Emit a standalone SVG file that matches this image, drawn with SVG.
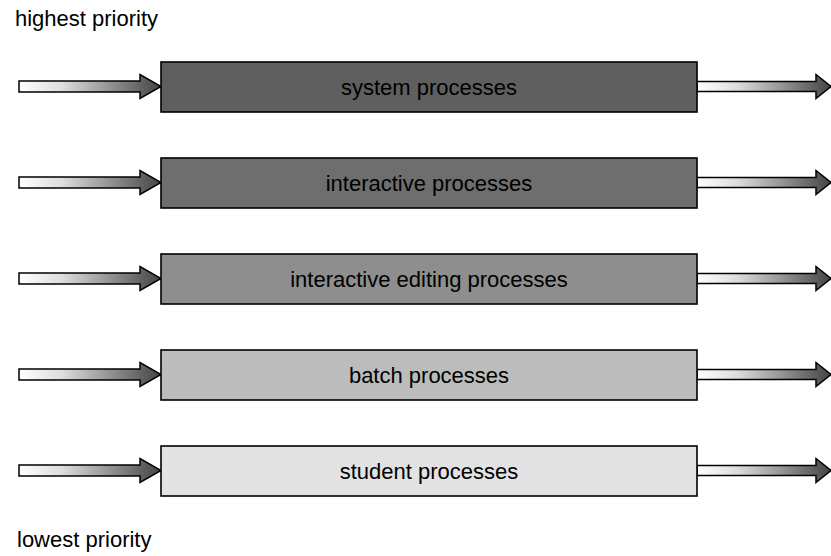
<svg xmlns="http://www.w3.org/2000/svg" width="831" height="556" viewBox="0 0 831 556">
<defs>
<linearGradient id="ag" x1="0" y1="0" x2="1" y2="0">
<stop offset="0" stop-color="#ffffff"/>
<stop offset="0.3" stop-color="#dddddd"/>
<stop offset="1" stop-color="#444444"/>
</linearGradient>
<path id="inA" d="M19,-5.5 H140 V-12 L161,0 L140,12 V5.5 H19 Z"/>
<path id="outA" d="M697,-5 H816 V-12 L831,0 L816,12 V5 H697 Z"/>
</defs>
<style>
.box{stroke:#000;stroke-width:1.6}
.arr{fill:url(#ag);stroke:#000;stroke-width:1.5;stroke-linejoin:miter}
.lbl{font-family:"Liberation Sans",Arial,sans-serif;font-size:22px;fill:#000;text-anchor:middle}
.pri{font-family:"Liberation Sans",Arial,sans-serif;font-size:22px;fill:#000}
</style>
<rect width="831" height="556" fill="#fff"/>
<text class="pri" x="15" y="26">highest priority</text>
<text class="pri" x="17" y="547">lowest priority</text>
<g id="connectors">
<use href="#inA" class="arr" transform="translate(0,86.5)"/>
<use href="#outA" class="arr" transform="translate(0,86.5)"/>
<use href="#inA" class="arr" transform="translate(0,182.5)"/>
<use href="#outA" class="arr" transform="translate(0,182.5)"/>
<use href="#inA" class="arr" transform="translate(0,278.5)"/>
<use href="#outA" class="arr" transform="translate(0,278.5)"/>
<use href="#inA" class="arr" transform="translate(0,374.5)"/>
<use href="#outA" class="arr" transform="translate(0,374.5)"/>
<use href="#inA" class="arr" transform="translate(0,470.5)"/>
<use href="#outA" class="arr" transform="translate(0,470.5)"/>
</g>
<g id="system">
<rect class="box" x="161" y="62" width="536" height="50" fill="#5f5f5f"/>
<text class="lbl" x="429" y="95">system processes</text>
</g>
<g id="interactive">
<rect class="box" x="161" y="158" width="536" height="50" fill="#6e6e6e"/>
<text class="lbl" x="429" y="191">interactive processes</text>
</g>
<g id="editing">
<rect class="box" x="161" y="254" width="536" height="50" fill="#8e8e8e"/>
<text class="lbl" x="429" y="287">interactive editing processes</text>
</g>
<g id="batch">
<rect class="box" x="161" y="350" width="536" height="50" fill="#bcbcbc"/>
<text class="lbl" x="429" y="383">batch processes</text>
</g>
<g id="student">
<rect class="box" x="161" y="446" width="536" height="50" fill="#e2e2e2"/>
<text class="lbl" x="429" y="479">student processes</text>
</g>
</svg>
